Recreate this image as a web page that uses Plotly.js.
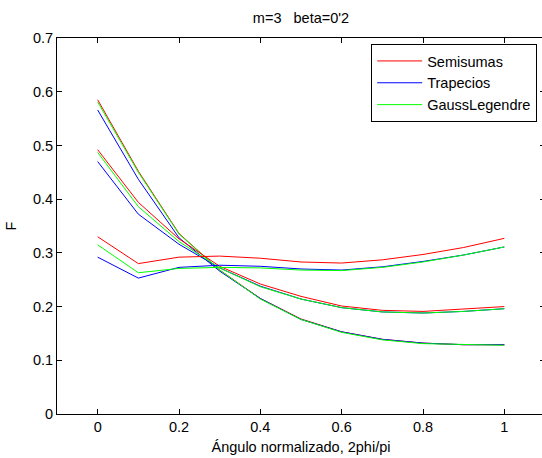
<!DOCTYPE html>
<html>
<head>
<meta charset="utf-8">
<script src="https://cdn.plot.ly/plotly-3.0.1.min.js"></script>
<style>
html, body { margin: 0; padding: 0; overflow: hidden; background: #fff; }
#chart { width: 550px; height: 458px; }
</style>
</head>
<body>
<div id="chart"></div>
<script>
// Normalized angle 2phi/pi
const angle = [0, 0.1, 0.2, 0.3, 0.4, 0.5, 0.6, 0.7, 0.8, 0.9, 1.0];

// Family 1 (highest start)
const semisumas1 = [0.585, 0.452, 0.336, 0.268, 0.215, 0.177, 0.153, 0.139, 0.132, 0.129, 0.129];
const trapecios1 = [0.566, 0.437, 0.328, 0.266, 0.215, 0.176, 0.153, 0.139, 0.132, 0.129, 0.129];
const gauss1     = [0.581, 0.450, 0.335, 0.268, 0.214, 0.176, 0.152, 0.138, 0.131, 0.129, 0.128];

// Family 2
const semisumas2 = [0.492, 0.394, 0.326, 0.275, 0.242, 0.219, 0.201, 0.193, 0.191, 0.195, 0.200];
const trapecios2 = [0.470, 0.372, 0.316, 0.272, 0.238, 0.214, 0.198, 0.190, 0.188, 0.191, 0.196];
const gauss2     = [0.487, 0.386, 0.321, 0.272, 0.237, 0.214, 0.198, 0.190, 0.188, 0.191, 0.196];

// Family 3
const semisumas3 = [0.330, 0.280, 0.292, 0.294, 0.290, 0.283, 0.281, 0.287, 0.297, 0.310, 0.327];
const trapecios3 = [0.292, 0.253, 0.273, 0.277, 0.275, 0.270, 0.268, 0.274, 0.284, 0.296, 0.311];
const gauss3     = [0.315, 0.263, 0.271, 0.273, 0.272, 0.268, 0.267, 0.273, 0.283, 0.296, 0.311];

const names = ['Semisumas', 'Trapecios', 'GaussLegendre'];
const colors = ['#ff0000', '#0000ff', '#00ff00'];
const families = [
  [semisumas1, trapecios1, gauss1],
  [semisumas2, trapecios2, gauss2],
  [semisumas3, trapecios3, gauss3]
];

const traces = [];
families.forEach((fam, fi) => {
  fam.forEach((ys, mi) => {
    traces.push({
      x: angle, y: ys, type: 'scatter', mode: 'lines',
      name: names[mi], legendgroup: names[mi], showlegend: fi === 0,
      line: { color: colors[mi], width: 1 }
    });
  });
});

const FS = 14.5;
const font = { family: 'Liberation Sans, Arial, sans-serif', size: FS, color: '#000' };

const layout = {
  width: 550, height: 458,
  margin: { l: 57, r: 5, t: 38, b: 44 },
  paper_bgcolor: '#fff', plot_bgcolor: '#fff',
  font: font,
  showlegend: true,
  title: { text: "m=3   beta=0'2", x: 0.5, xref: 'paper', xanchor: 'center',
           y: 1 - 18 / 458, yref: 'container', yanchor: 'middle',
           font: { family: font.family, size: FS, color: '#000' } },
  xaxis: {
    range: [-0.1, 1.1], tickvals: [0, 0.2, 0.4, 0.6, 0.8, 1], ticktext: ['0', '0.2', '0.4', '0.6', '0.8', '1'],
    ticks: 'inside', ticklen: 5, tickcolor: '#000', showline: true, linecolor: '#000', linewidth: 1,
    mirror: 'ticks', showgrid: false, zeroline: false,
    tickfont: { family: font.family, size: FS, color: '#000' },
    title: { text: 'Ángulo normalizado, 2phi/pi', standoff: 7, font: { family: font.family, size: FS, color: '#000' } }
  },
  yaxis: {
    range: [0, 0.7], tickvals: [0, 0.1, 0.2, 0.3, 0.4, 0.5, 0.6, 0.7], ticktext: ['0', '0.1', '0.2', '0.3', '0.4', '0.5', '0.6', '0.7'],
    ticks: 'inside', ticklen: 5, tickcolor: '#000', showline: true, linecolor: '#000', linewidth: 1,
    mirror: 'ticks', showgrid: false, zeroline: false,
    tickfont: { family: font.family, size: FS, color: '#000' },
    title: { text: 'F', standoff: 12, font: { family: font.family, size: FS, color: '#000' } }
  },
  legend: {
    x: (371 - 57) / (544.7 - 57), y: 1 - (44 - 38) / 376, xanchor: 'left', yanchor: 'top',
    xref: 'paper', yref: 'paper',
    bgcolor: '#fff', bordercolor: '#000', borderwidth: 1,
    font: { family: font.family, size: FS, color: '#000' },
    itemwidth: 45, tracegroupgap: 0
  }
};

Plotly.newPlot('chart', traces, layout, { displayModeBar: false, staticPlot: true });
</script>
</body>
</html>
